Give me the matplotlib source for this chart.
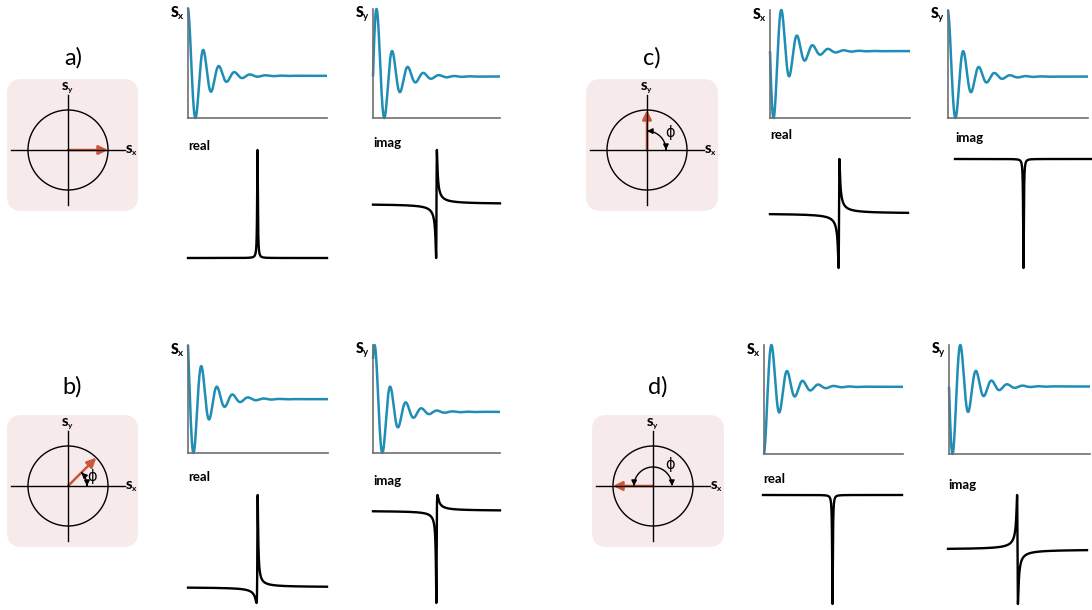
import numpy as np
import matplotlib
matplotlib.use('Agg')
import matplotlib.pyplot as plt
from matplotlib.patches import FancyBboxPatch, Circle, FancyArrowPatch, ArrowStyle
from matplotlib.path import Path

W, H = 1092, 610

plt.rcParams['font.family'] = ['Lato', 'DejaVu Sans']
plt.rcParams['mathtext.fontset'] = 'custom'
plt.rcParams['mathtext.rm'] = 'Lato:bold'
plt.rcParams['mathtext.bf'] = 'Lato:heavy'

# Фаза сигнала для каждой из четырёх схем
panel_labels = ['a)', 'b)', 'c)', 'd)']
phases_deg = [0, 45, 90, 180]

# Параметры сигнала спада свободной индукции и линии спектра
fid_period = 0.112     # период колебаний (в долях ширины графика)
fid_t2 = 0.115         # время затухания
line_gamma = 0.006     # полуширина лоренцевой линии
fid_ref_width = 139.0  # ширина графика, которой соответствует t = 1

BLUE = '#1f8db5'
RED = '#cc553e'
PINK = '#f6eaea'
SPINE = '#707070'

# Разметка в пикселях: (x0, y0, x1, y1)
label_xy = [(73, 58), (72, 387), (652, 58), (658, 387)]
box_px = [(7, 79, 138, 211), (7, 415, 138, 547), (586, 79, 718, 211), (592, 415, 724, 547)]
circle_xy = [(68, 150), (68, 486), (647, 150), (653, 486)]
phi_label_off = [None, (24, -10), (23, -18), (17, -21)]
sx_axes = [(188, 8, 327, 118), (188, 345, 328, 453), (770, 10, 910, 118), (764, 345, 903, 454)]
sy_axes = [(373, 9, 500, 118), (373, 345, 500, 453), (948, 10, 1088, 118), (949, 345, 1090, 454)]
re_axes = [(188, 150, 327, 258), (188, 495, 327, 603), (770, 159, 908, 268), (763, 495, 902, 604)]
im_axes = [(373, 150, 500, 258), (373, 495, 500, 603), (955, 159, 1092, 268), (948, 495, 1087, 604)]
re_label_y = [146, 477, 135, 479]
im_label_y = [143, 481, 138, 485]

R = 40      # радиус окружности
ARC_R = 19  # радиус дуги угла


def add_px_axes(fig, box):
    x0, y0, x1, y1 = box
    return fig.add_axes([x0 / W, 1 - y1 / H, (x1 - x0) / W, (y1 - y0) / H])


def fid(phi, t):
    decay = np.exp(-t / fid_t2)
    arg = 2 * np.pi * t / fid_period + phi
    return decay * np.cos(arg), decay * np.sin(arg)


def spectrum(phi, nu):
    absorb = line_gamma / (nu ** 2 + line_gamma ** 2)
    disp = nu / (nu ** 2 + line_gamma ** 2)
    z = np.exp(-1j * phi) * (absorb + 1j * disp)
    return z.real, z.imag


def draw_fid(fig, box, y, t, sub):
    ax = add_px_axes(fig, box)
    ax.plot(t, y, color=BLUE, lw=1.8, clip_on=False, solid_capstyle='butt')
    ax.set_xlim(t[0], t[-1])
    ax.set_ylim(y.min(), y.max())
    for s in ['top', 'right']:
        ax.spines[s].set_visible(False)
    for s in ['left', 'bottom']:
        ax.spines[s].set_color(SPINE)
        ax.spines[s].set_linewidth(1.2)
    ax.set_xticks([])
    ax.set_yticks([])
    ax.patch.set_alpha(0)
    bg.text(box[0] - 18, box[1] + 5, r'$\mathbf{S}_\mathrm{%s}$' % sub,
            fontsize=10, ha='left', va='center')
    return ax


def draw_spec(fig, box, nu, y, name, label_y):
    ax = add_px_axes(fig, box)
    ax.plot(nu, y, color='black', lw=1.7, clip_on=False)
    ax.set_xlim(nu[0], nu[-1])
    ax.set_ylim(y.min(), y.max())
    ax.axis('off')
    bg.text(box[0], label_y, name, fontsize=9.5, fontweight='bold', ha='left', va='center')
    return ax


fig = plt.figure(figsize=(W / 100, H / 100), dpi=100)
bg = fig.add_axes([0, 0, 1, 1])
bg.set_xlim(0, W)
bg.set_ylim(H, 0)
bg.axis('off')

nu = np.linspace(-1, 1, 40001)

for i, lab in enumerate(panel_labels):
    phi = np.deg2rad(phases_deg[i])

    # подпись схемы
    bg.text(*label_xy[i], lab, fontsize=17, ha='center', va='center', fontweight='normal')

    # векторная диаграмма
    x0, y0, x1, y1 = box_px[i]
    bg.add_patch(FancyBboxPatch((x0 + 15, y0 + 15), x1 - x0 - 30, y1 - y0 - 30,
                                boxstyle='round,pad=15', fc=PINK, ec='none'))
    cx, cy = circle_xy[i]
    bg.add_patch(Circle((cx, cy), R, fill=False, ec='black', lw=1.0))
    bg.plot([cx - 57, cx + 57], [cy, cy], color='black', lw=1.0)
    bg.plot([cx, cx], [cy - 55, cy + 55], color='black', lw=1.0)
    bg.text(cx - 1, cy - 62, r'$\mathbf{S}_\mathrm{y}$', fontsize=8.5, ha='center', va='center')
    bg.text(cx + 57, cy + 1, r'$\mathbf{S}_\mathrm{x}$', fontsize=8.5, ha='left', va='center')

    tip = (cx + R * np.cos(phi), cy - R * np.sin(phi))
    bg.add_patch(FancyArrowPatch((cx, cy), tip, arrowstyle=ArrowStyle('-|>', head_length=0.55, head_width=0.27),
                                 mutation_scale=10, color=RED, lw=1.8, shrinkA=0, shrinkB=0))

    if phi > 0:
        ang = np.linspace(0, phi, 60)
        arc = Path(np.column_stack([cx + ARC_R * np.cos(ang), cy - ARC_R * np.sin(ang)]))
        bg.add_patch(FancyArrowPatch(path=arc, arrowstyle=ArrowStyle('<|-|>', head_length=0.4, head_width=0.2),
                                     mutation_scale=8, color='black', lw=1.0))
        dx, dy = phi_label_off[i]
        bg.text(cx + dx, cy + dy, 'ϕ', fontsize=10.5, ha='center', va='center',
                family=['DejaVu Sans'])

    # сигнал во временной области
    for box, sub, k in [(sx_axes[i], 'x', 0), (sy_axes[i], 'y', 1)]:
        t = np.linspace(0, (box[2] - box[0]) / fid_ref_width, 2000)
        draw_fid(fig, box, fid(phi, t)[k], t, sub)

    # спектр
    re, im = spectrum(phi, nu)
    draw_spec(fig, re_axes[i], nu, re, 'real', re_label_y[i])
    draw_spec(fig, im_axes[i], nu, im, 'imag', im_label_y[i])

fig.savefig('out.png', dpi=100)
